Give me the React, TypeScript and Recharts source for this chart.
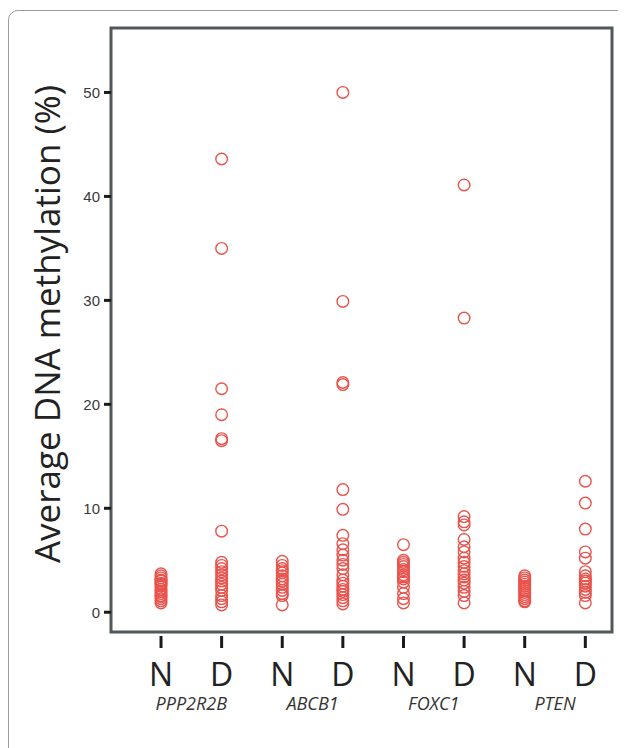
import React from "react";
import { ScatterChart, Scatter, XAxis, YAxis, ReferenceArea } from "recharts";

// ── data ─────────────────────────────────────────────────────────────────────

const genes = ["PPP2R2B", "ABCB1", "FOXC1", "PTEN"];
const groupLabels = ["N", "D", "N", "D", "N", "D", "N", "D"];
const yTicks = [0, 10, 20, 30, 40, 50];

const ppp2r2bN = [3.7, 3.5, 3.3, 3.1, 3.0, 2.8, 2.7, 2.5, 2.2, 2.0, 1.8, 1.6, 1.5, 1.3, 1.1, 0.9];
const ppp2r2bD = [43.6, 35.0, 21.5, 19.0, 16.7, 16.5, 7.8, 4.8, 4.5, 4.2, 3.9, 3.6, 3.3, 3.0, 2.7, 2.4, 2.1, 1.6, 1.3, 1.0, 0.7];
const abcb1N = [4.9, 4.5, 4.2, 4.0, 3.8, 3.5, 3.2, 3.0, 2.7, 2.4, 2.1, 1.8, 1.6, 0.7];
const abcb1D = [50.0, 29.9, 22.1, 21.9, 11.8, 9.9, 7.4, 6.6, 6.0, 5.5, 5.0, 4.6, 4.2, 3.6, 3.1, 2.8, 2.5, 2.2, 2.0, 1.7, 1.4, 1.1, 0.8];
const foxc1N = [6.5, 5.0, 4.8, 4.6, 4.4, 4.1, 3.9, 3.6, 3.4, 3.2, 2.9, 2.4, 1.8, 1.3, 0.9];
const foxc1D = [41.1, 28.3, 9.2, 8.7, 8.4, 7.0, 6.3, 5.8, 5.2, 4.8, 4.4, 4.0, 3.7, 3.4, 3.1, 2.8, 2.4, 2.0, 1.6, 0.9];
const ptenN = [3.5, 3.3, 3.1, 2.9, 2.7, 2.5, 2.3, 2.1, 1.9, 1.7, 1.5, 1.3, 1.1, 1.0];
const ptenD = [12.6, 10.5, 8.0, 5.8, 5.2, 3.9, 3.5, 3.2, 3.0, 2.8, 2.5, 2.2, 1.9, 1.6, 0.9];

const groups = [ppp2r2bN, ppp2r2bD, abcb1N, abcb1D, foxc1N, foxc1D, ptenN, ptenD];

const points = groups.flatMap((vals, i) => vals.map((v) => ({ x: i + 1, y: v })));
// group ticks at 1..8, gene name ticks half way between each N/D pair
const xTicks = groups.flatMap((_, i) => (i % 2 === 1 ? [i + 0.5, i + 1] : [i + 1]));

const xDomain: [number, number] = [0.175, 8.44];
const yDomain: [number, number] = [-1.9, 56.2];

const RED = "#e9534c";
const BOX = "#50585a";
const HUMANIST = "'Open Sans', 'Noto Sans', sans-serif";

// ── pieces ───────────────────────────────────────────────────────────────────

const OpenCircle = (props: any) => {
  const { cx, cy } = props;
  if (cx == null || cy == null) return null;
  return <circle cx={cx} cy={cy} r={5.8} fill="none" stroke={RED} strokeWidth={1.4} />;
};

const XTick = (props: any) => {
  const { x, y, payload } = props;
  const v = payload.value;
  if (!Number.isInteger(v)) {
    return (
      <text
        x={x}
        y={y + 78}
        textAnchor="middle"
        style={{ fontSize: 18, fontStyle: "italic", fontFamily: HUMANIST }}
        fill="#333"
      >
        {genes[Math.floor(v / 2)]}
      </text>
    );
  }
  return (
    <g>
      <line x1={x} x2={x} y1={y + 4} y2={y + 16} stroke="#1a1a1a" strokeWidth={3} />
      <text x={x} y={y + 54} textAnchor="middle" style={{ fontSize: 32, fontFamily: HUMANIST }} fill="#222">
        {groupLabels[v - 1]}
      </text>
    </g>
  );
};

const YLabel = (props: any) => {
  const { viewBox } = props;
  const cx = viewBox.x + 38;
  const cy = viewBox.y + viewBox.height / 2 - 6;
  return (
    <text
      x={cx}
      y={cy}
      transform={`rotate(-90, ${cx}, ${cy})`}
      textAnchor="middle"
      dominantBaseline="central"
      style={{ fontSize: 35, fontFamily: HUMANIST }}
      fill="#222"
    >
      Average DNA methylation (%)
    </text>
  );
};

export default function App() {
  return (
    <div style={{ position: "relative", width: 618, height: 740, overflow: "hidden", background: "#fff" }}>
      <div
        style={{
          position: "absolute",
          left: 0,
          top: 2,
          width: 660,
          height: 780,
          border: "1px solid #9c9c9c",
          borderRadius: 10,
          boxSizing: "border-box",
        }}
      />
      <ScatterChart
        width={618}
        height={740}
        margin={{ top: 20, right: 14, bottom: 36, left: 0 }}
        style={{ position: "absolute", left: 0, top: 0 }}
      >
        <XAxis
          type="number"
          dataKey="x"
          domain={xDomain}
          ticks={xTicks}
          allowDataOverflow
          axisLine={false}
          tickLine={false}
          tickSize={0}
          tickMargin={0}
          height={80}
          interval={0}
          tick={<XTick />}
        />
        <YAxis
          type="number"
          dataKey="y"
          domain={yDomain}
          ticks={yTicks}
          allowDataOverflow
          width={103}
          axisLine={false}
          tickSize={7}
          tickMargin={4}
          tickLine={{ stroke: "#1a1a1a", strokeWidth: 3 }}
          tick={{ fontSize: 15, fill: "#3a3a3a", fontFamily: "'Liberation Sans', Arial, sans-serif" }}
          label={<YLabel />}
        />
        <ReferenceArea
          x1={xDomain[0]}
          x2={xDomain[1]}
          y1={yDomain[0]}
          y2={yDomain[1]}
          fill="none"
          stroke={BOX}
          strokeWidth={3}
          strokeOpacity={1}
          fillOpacity={0}
          ifOverflow="visible"
        />
        <Scatter data={points} shape={<OpenCircle />} isAnimationActive={false} />
      </ScatterChart>
    </div>
  );
}
